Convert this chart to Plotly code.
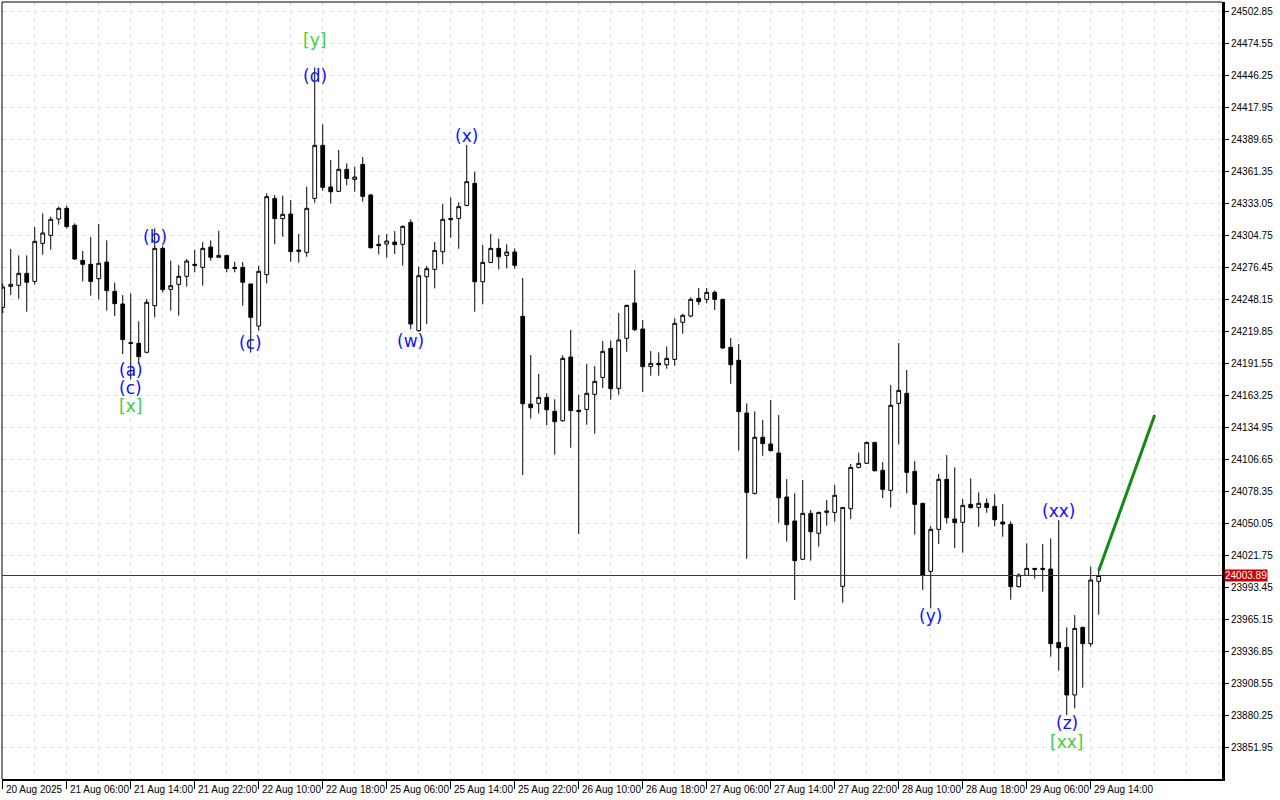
import plotly.graph_objects as go

# ---------------- data (H1 candles) ----------------
opens = [24241.0, 24259.6, 24260.5, 24271.1, 24264.0, 24297.6, 24304.7, 24319.2, 24328.6, 24313.6,
         24282.6, 24279.1, 24266.4, 24281.1, 24255.2, 24244.0, 24209.8, 24209.2, 24201.3, 24242.5,
         24293.2, 24257.0, 24261.4, 24268.5, 24279.1, 24276.4, 24294.4, 24285.3, 24287.0, 24276.4,
         24276.4, 24261.7, 24224.5, 24270.0, 24337.4, 24319.5, 24323.6, 24291.7, 24289.7, 24337.4,
         24384.3, 24347.5, 24343.6, 24363.1, 24354.2, 24367.5, 24340.4, 24296.8, 24297.0, 24298.8,
         24296.8, 24316.2, 24220.4, 24268.1, 24274.6, 24290.3, 24319.7, 24319.7, 24331.2, 24350.7,
         24263.7, 24280.8, 24293.2, 24287.0, 24290.0, 24233.1, 24155.5, 24156.1, 24161.4, 24149.1,
         24140.8, 24197.1, 24150.0, 24150.8, 24164.1, 24179.1, 24204.8, 24169.4, 24213.6, 24244.9,
         24221.9, 24188.6, 24191.5, 24190.3, 24195.0, 24227.8, 24233.4, 24249.0, 24248.1, 24254.3,
         24248.1, 24205.7, 24194.2, 24147.6, 24076.5, 24126.1, 24120.2, 24112.2, 24073.3, 24052.1,
         24018.2, 24058.8, 24041.2, 24059.7, 24059.7, 23994.3, 24063.0, 24099.5, 24103.1, 24121.6,
         24096.9, 24079.2, 24156.1, 24165.0, 24096.0, 24067.7, 24007.5, 24044.7, 24088.9, 24053.8,
         24050.9, 24066.8, 24064.1, 24067.7, 24065.0, 24051.2, 24049.1, 23994.0, 24004.0, 24010.2,
         24010.2, 24009.6, 23944.7, 23940.3, 23898.2, 23958.0, 23943.6, 23998.7]
highs = [24262.0, 24292.6, 24287.0, 24287.0, 24312.1, 24324.2, 24321.2, 24330.1, 24331.0, 24315.3,
         24290.9, 24303.3, 24314.8, 24300.3, 24262.9, 24251.9, 24253.4, 24228.7, 24248.4, 24310.9,
         24295.3, 24282.3, 24278.5, 24283.8, 24292.0, 24298.8, 24300.3, 24308.6, 24287.0, 24281.4,
         24281.1, 24261.7, 24277.9, 24341.9, 24340.4, 24339.8, 24336.0, 24305.9, 24347.7, 24453.3,
         24402.9, 24371.3, 24380.2, 24368.4, 24365.4, 24374.0, 24341.3, 24305.0, 24305.9, 24308.5,
         24313.5, 24318.9, 24277.0, 24277.6, 24298.8, 24332.4, 24338.3, 24333.9, 24384.6, 24361.0,
         24296.2, 24305.9, 24301.8, 24296.8, 24293.2, 24267.0, 24198.9, 24182.1, 24165.0, 24159.7,
         24198.6, 24221.0, 24163.5, 24190.9, 24189.1, 24211.3, 24211.6, 24236.0, 24243.4, 24274.1,
         24229.8, 24202.4, 24201.2, 24206.5, 24231.3, 24235.2, 24249.9, 24258.1, 24258.1, 24256.1,
         24248.7, 24213.9, 24208.6, 24156.1, 24149.0, 24141.4, 24159.1, 24145.8, 24089.2, 24076.5,
         24088.3, 24061.8, 24060.3, 24070.6, 24083.9, 24064.1, 24102.5, 24112.5, 24122.5, 24122.0,
         24104.2, 24172.3, 24209.5, 24185.6, 24105.1, 24068.0, 24047.6, 24093.6, 24110.4, 24099.5,
         24071.5, 24089.8, 24077.4, 24072.1, 24075.9, 24067.1, 24051.8, 24005.8, 24032.3, 24010.5,
         24031.7, 24036.7, 24052.9, 23958.0, 23968.9, 23958.6, 24011.7, 24011.1]
lows = [24236.0, 24251.9, 24248.7, 24237.2, 24261.1, 24287.6, 24292.0, 24314.2, 24310.9, 24282.9,
        24264.0, 24251.4, 24248.1, 24238.1, 24233.4, 24199.8, 24177.4, 24191.5, 24200.4, 24232.2,
        24254.3, 24238.1, 24233.7, 24259.3, 24272.0, 24260.2, 24282.3, 24285.3, 24272.0, 24272.0,
        24242.5, 24201.0, 24220.4, 24262.3, 24296.8, 24303.5, 24281.4, 24280.5, 24285.8, 24333.6,
        24344.2, 24333.0, 24343.6, 24348.9, 24343.3, 24334.5, 24293.0, 24287.9, 24285.0, 24288.2,
        24277.9, 24221.6, 24219.5, 24226.3, 24257.8, 24279.1, 24302.6, 24292.9, 24330.5, 24237.2,
        24243.7, 24280.0, 24274.6, 24275.5, 24275.2, 24092.7, 24142.6, 24147.0, 24136.7, 24110.7,
        24140.0, 24116.9, 24040.6, 24137.3, 24129.3, 24169.7, 24159.4, 24163.8, 24201.8, 24220.1,
        24166.1, 24180.6, 24180.6, 24186.8, 24189.4, 24217.7, 24232.2, 24243.1, 24244.6, 24238.7,
        24204.2, 24173.5, 24114.3, 24018.7, 24075.5, 24109.8, 24113.7, 24050.6, 24033.8, 23982.2,
        24017.5, 24017.0, 24029.4, 24047.9, 24051.5, 23979.8, 24053.8, 24098.6, 24102.5, 24095.7,
        24072.4, 24063.9, 24119.9, 24076.5, 24040.0, 23991.0, 23974.8, 24031.7, 24050.0, 24028.2,
        24024.1, 24063.0, 24047.0, 24059.4, 24047.4, 24038.2, 23982.5, 23993.4, 24003.5, 24001.1,
        23989.6, 23932.1, 23919.7, 23880.5, 23886.4, 23904.7, 23940.9, 23969.2]
closes = [24259.0, 24261.4, 24271.1, 24263.2, 24299.4, 24306.8, 24318.9, 24328.6, 24312.4, 24283.8,
          24279.1, 24264.0, 24280.0, 24255.8, 24244.3, 24212.5, 24209.2, 24197.4, 24245.5, 24293.2,
          24256.7, 24260.2, 24268.5, 24282.0, 24278.2, 24293.2, 24285.3, 24287.0, 24275.5, 24275.5,
          24263.2, 24232.2, 24272.9, 24338.9, 24319.5, 24323.3, 24290.3, 24290.6, 24328.6, 24384.3,
          24347.2, 24343.3, 24363.1, 24355.1, 24356.3, 24339.2, 24293.8, 24295.6, 24299.7, 24296.5,
          24312.7, 24226.3, 24269.0, 24275.2, 24291.4, 24318.9, 24318.6, 24330.1, 24352.2, 24263.7,
          24280.8, 24293.2, 24285.8, 24290.0, 24278.2, 24155.8, 24152.3, 24161.4, 24150.5, 24139.9,
          24195.9, 24149.7, 24148.8, 24165.0, 24175.6, 24202.1, 24169.1, 24212.2, 24242.8, 24221.3,
          24188.6, 24191.5, 24190.3, 24195.9, 24226.9, 24234.0, 24248.1, 24246.0, 24254.3, 24248.1,
          24205.1, 24190.3, 24148.8, 24077.4, 24126.1, 24120.5, 24114.3, 24072.7, 24048.8, 24017.0,
          24058.8, 24042.6, 24059.7, 24060.9, 24074.8, 24064.1, 24099.5, 24103.1, 24121.6, 24096.6,
          24080.1, 24154.4, 24167.6, 24095.1, 24066.8, 24004.0, 24044.7, 24088.9, 24055.0, 24050.6,
          24065.9, 24063.9, 24067.7, 24064.1, 24053.2, 24049.4, 23994.0, 24004.3, 24010.2, 24009.3,
          24009.3, 23943.6, 23940.0, 23898.2, 23957.1, 23943.6, 23999.9, 24003.89]

# x-axis tick labels (one every 8 bars)
time_labels = ["20 Aug 2025", "21 Aug 06:00", "21 Aug 14:00", "21 Aug 22:00", "22 Aug 10:00",
               "22 Aug 18:00", "25 Aug 06:00", "25 Aug 14:00", "25 Aug 22:00", "26 Aug 10:00",
               "26 Aug 18:00", "27 Aug 06:00", "27 Aug 14:00", "27 Aug 22:00", "28 Aug 10:00",
               "28 Aug 18:00", "29 Aug 06:00", "29 Aug 14:00"]
label_step = 8

# y-axis tick values
price_ticks = [24502.85, 24474.55, 24446.25, 24417.95, 24389.65, 24361.35, 24333.05, 24304.75,
               24276.45, 24248.15, 24219.85, 24191.55, 24163.25, 24134.95, 24106.65, 24078.35,
               24050.05, 24021.75, 23993.45, 23965.15, 23936.85, 23908.55, 23880.25, 23851.95]

current_price = 24003.89

# Elliott wave labels: text, bar index, price
blue_labels = [("(d)", 39, 24445.6), ("(x)", 58, 24392.6), ("(b)", 19, 24303.2),
               ("(c)", 31, 24209.5), ("(w)", 51, 24211.3), ("(a)", 16, 24185.6),
               ("(c)", 16, 24169.7), ("(y)", 116, 23968.1), ("(xx)", 132, 24060.9),
               ("(z)", 133, 23873.4)]
green_labels = [("[y]", 39, 24477.5), ("[x]", 16, 24153.8), ("[xx]", 133, 23856.6)]

# forecast line (bar index, price)
forecast_x = [137, 144]
forecast_y = [24008.0, 24145.8]

# ---------------- figure ----------------
n = len(opens)
xs = list(range(n))

fig = go.Figure()
fig.add_trace(go.Candlestick(
    x=xs, open=opens, high=highs, low=lows, close=closes,
    increasing=dict(line=dict(color="black", width=1), fillcolor="white"),
    decreasing=dict(line=dict(color="black", width=1), fillcolor="black"),
    whiskerwidth=0, showlegend=False, hoverinfo="skip",
))
fig.add_trace(go.Scatter(x=forecast_x, y=forecast_y, mode="lines",
                         line=dict(color="#108a10", width=3), showlegend=False,
                         hoverinfo="skip"))

axis_font = dict(family="Liberation Sans, Arial, sans-serif", size=10, color="black")

fig.update_layout(
    width=1280, height=800,
    margin=dict(l=2, r=58, t=2, b=21),
    paper_bgcolor="white", plot_bgcolor="white",
    boxgap=0.33,
    showlegend=False,
    xaxis=dict(
        range=[-0.09, 152.41], rangeslider=dict(visible=False),
        tickmode="array", tickvals=[i * label_step for i in range(len(time_labels))],
        showticklabels=False, ticks="outside", ticklen=8, tickcolor="black", tickwidth=1,
        showgrid=True, gridcolor="#e3e3e3", griddash="4px,4px", gridwidth=1,
        minor=dict(tickmode="linear", tick0=0, dtick=4, showgrid=True,
                   gridcolor="#e3e3e3", griddash="4px,4px", gridwidth=1, ticks=""),
        showline=True, linecolor="black", linewidth=2, zeroline=False,
        fixedrange=True,
    ),
    yaxis=dict(
        side="right", range=[23823.9, 24511.1],
        tickmode="array", tickvals=price_ticks,
        ticktext=[f"{v:.2f}" for v in price_ticks],
        ticks="outside", ticklen=4, tickcolor="black", tickfont=axis_font,
        showgrid=True, gridcolor="#e3e3e3", griddash="4px,4px", gridwidth=1,
        showline=True, linecolor="black", linewidth=3, zeroline=False,
        fixedrange=True,
    ),
)

# left/top frame
fig.add_shape(type="line", xref="paper", yref="paper", x0=0, x1=0, y0=0, y1=1,
              line=dict(color="black", width=1))
fig.add_shape(type="line", xref="paper", yref="paper", x0=0, x1=1, y0=1, y1=1,
              line=dict(color="black", width=1))

# current price line and label
fig.add_shape(type="line", xref="paper", yref="y", x0=0, x1=1, y0=current_price,
              y1=current_price, line=dict(color="#b30000", width=1))
fig.add_annotation(xref="paper", yref="y", x=1, y=current_price, xanchor="left",
                   yanchor="middle", xshift=2, text=f"{current_price:.2f}", showarrow=False,
                   bgcolor="#c80000", borderpad=0,
                   font=dict(family="Liberation Sans, Arial, sans-serif", size=10,
                             color="white"))

# x tick labels (left aligned at tick)
for i, t in enumerate(time_labels):
    fig.add_annotation(xref="x", yref="paper", x=i * label_step, y=0, xanchor="left",
                       yanchor="top", xshift=1, yshift=-3, text=t, showarrow=False,
                       font=axis_font)

wave_font = "DejaVu Sans, sans-serif"
for t, xi, yp in blue_labels:
    fig.add_annotation(x=xi, y=yp, text=t, showarrow=False, xanchor="center",
                       yanchor="middle", font=dict(family=wave_font, size=17, color="#1010ff"))
for t, xi, yp in green_labels:
    fig.add_annotation(x=xi, y=yp, text=t, showarrow=False, xanchor="center",
                       yanchor="middle", font=dict(family=wave_font, size=17, color="#3ccf3c"))

fig.write_html("out.html", config={"displayModeBar": False},
               post_script="document.body.style.margin='0';document.body.style.padding='0';")
